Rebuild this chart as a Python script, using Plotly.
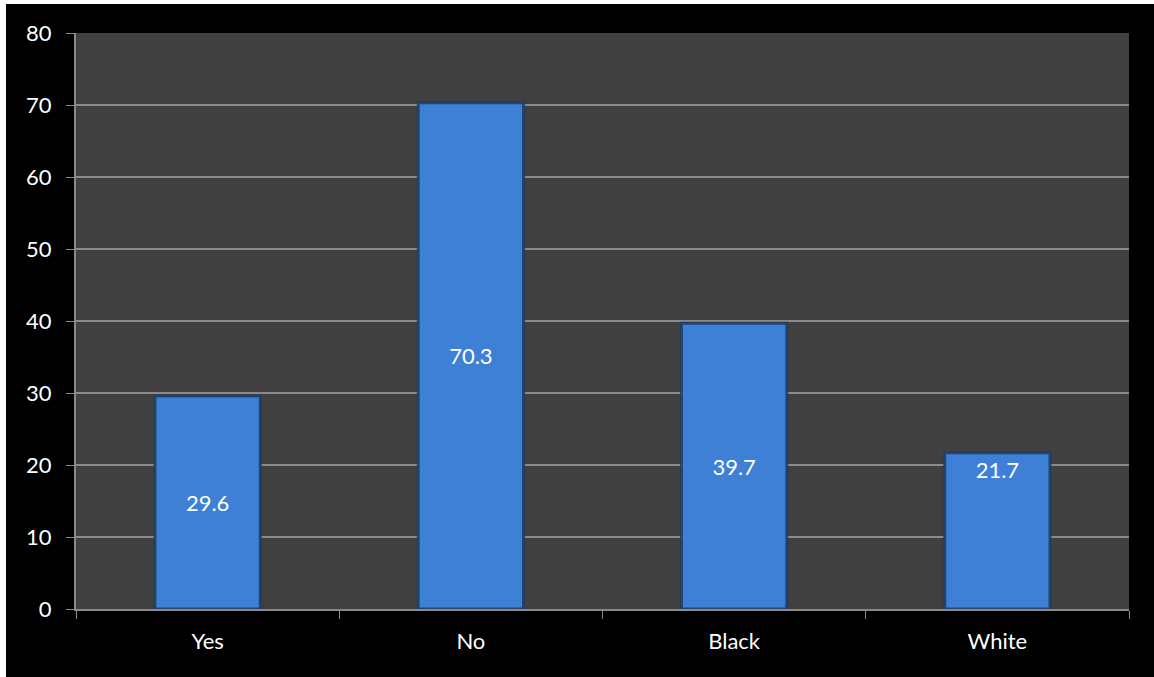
import plotly.graph_objects as go

categories = ["Yes", "No", "Black", "White"]
values = [29.6, 70.3, 39.7, 21.7]
y_ticks = [0, 10, 20, 30, 40, 50, 60, 70, 80]

FONT = "Lato, Open Sans, sans-serif"
bar_color = "#3d80d6"
edge_color = "rgba(30,60,100,0.85)"

fig = go.Figure()
# first three bars: label centered
fig.add_trace(go.Bar(
    x=categories[:3], y=values[:3], width=0.4,
    marker=dict(color=bar_color, line=dict(color=edge_color, width=3)),
    text=[f"{v}" for v in values[:3]], textposition="inside",
    insidetextanchor="middle",
    textfont=dict(color="white", size=22, family=FONT),
    hoverinfo="x+y",
))
# last bar: label near top
fig.add_trace(go.Bar(
    x=categories[3:], y=values[3:], width=0.4,
    marker=dict(color=bar_color, line=dict(color=edge_color, width=3)),
    text=[f"{v}" for v in values[3:]], textposition="inside",
    insidetextanchor="end",
    textfont=dict(color="white", size=22, family=FONT),
    hoverinfo="x+y",
))

fig.update_layout(
    width=1148, height=673,
    margin=dict(l=70, r=25, t=29, b=68),
    paper_bgcolor="black", plot_bgcolor="#404040",
    barmode="overlay", showlegend=False,
    font=dict(family=FONT, color="white", size=22),
    xaxis=dict(
        categoryorder="array", categoryarray=categories,
        showline=True, linecolor="#8a8a8a", linewidth=2,
        ticks="outside", tickson="boundaries", ticklen=8, tickcolor="#8a8a8a",
        tickwidth=1, showgrid=False, ticklabelstandoff=12,
        tickfont=dict(color="white", size=22, family=FONT),
    ),
    yaxis=dict(
        range=[0, 80], tickvals=y_ticks,
        showline=True, linecolor="#8a8a8a", linewidth=2,
        ticks="outside", ticklen=8, tickcolor="#8a8a8a",
        showgrid=True, gridcolor="#8a8a8a", gridwidth=1.5,
        zeroline=False, ticklabelstandoff=10,
        tickfont=dict(color="white", size=22, family=FONT),
    ),
)

fig.write_html("out.html",
               post_script="document.body.style.margin='4px 0 0 6px';document.body.style.background='white';")
